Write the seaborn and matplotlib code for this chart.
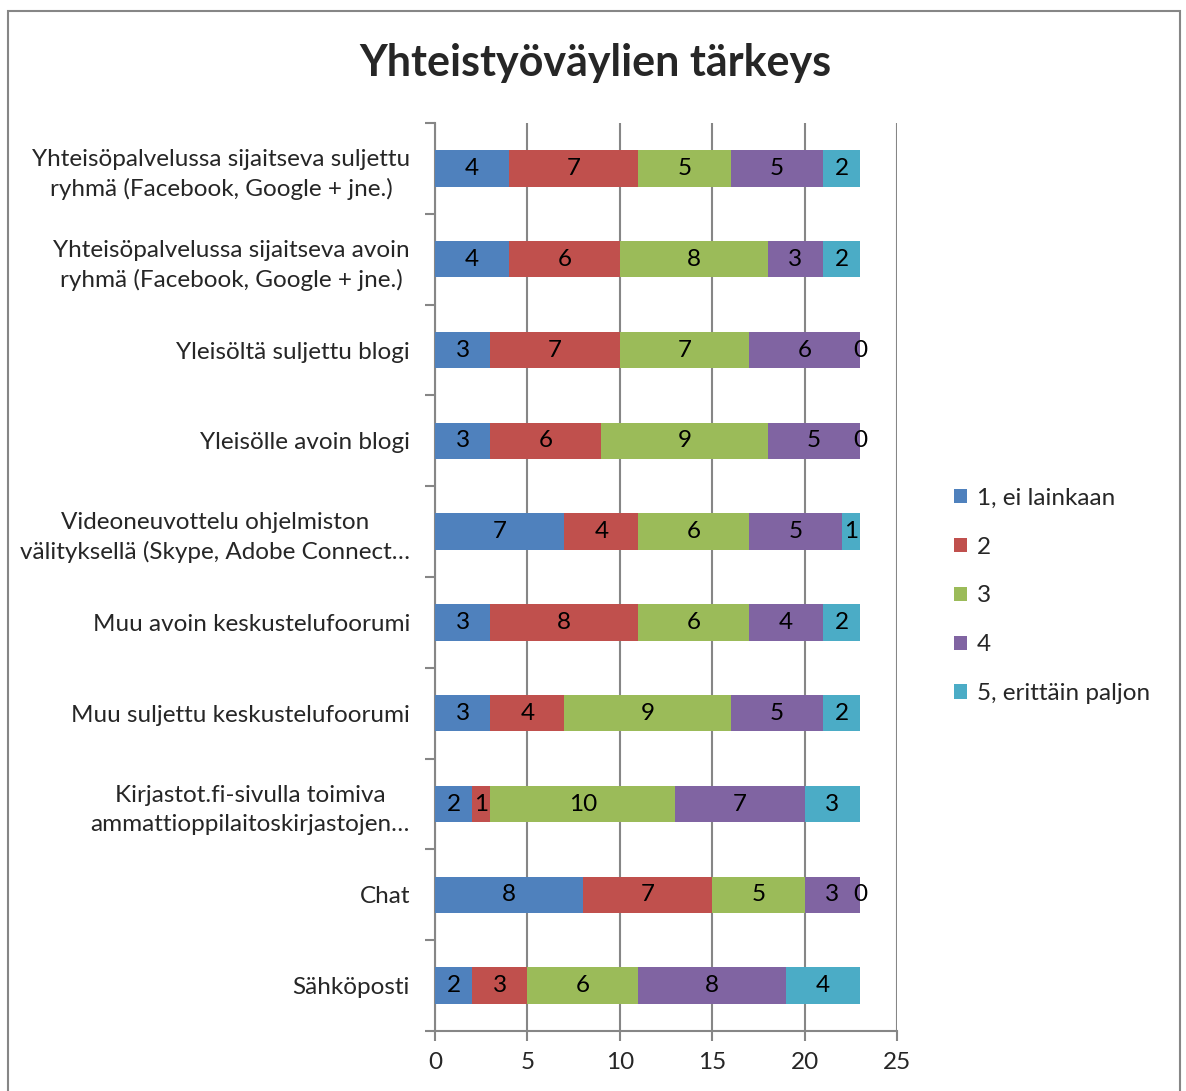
import numpy as np
import pandas as pd
import seaborn as sns
import matplotlib.pyplot as plt
import matplotlib.ticker as ticker
from matplotlib.patches import Patch, Rectangle

# channels, top to bottom
kanavat = [
    'Yhteisöpalvelussa sijaitseva suljettu\nryhmä (Facebook, Google + jne.)',
    'Yhteisöpalvelussa sijaitseva avoin\nryhmä (Facebook, Google + jne.)',
    'Yleisöltä suljettu blogi',
    'Yleisölle avoin blogi',
    'Videoneuvottelu ohjelmiston\nvälityksellä (Skype, Adobe Connect…',
    'Muu avoin keskustelufoorumi',
    'Muu suljettu keskustelufoorumi',
    'Kirjastot.fi-sivulla toimiva\nammattioppilaitoskirjastojen…',
    'Chat',
    'Sähköposti',
]
tasot = ['1, ei lainkaan', '2', '3', '4', '5, erittäin paljon']
taso1 = [4, 4, 3, 3, 7, 3, 3, 2, 8, 2]
taso2 = [7, 6, 7, 6, 4, 8, 4, 1, 7, 3]
taso3 = [5, 8, 7, 9, 6, 6, 9, 10, 5, 6]
taso4 = [5, 3, 6, 5, 5, 4, 5, 7, 3, 8]
taso5 = [2, 2, 0, 0, 1, 2, 2, 3, 0, 4]
x_ticks = [0, 5, 10, 15, 20, 25]

varit = ['#4F81BD', '#C0504D', '#9BBB59', '#8064A2', '#4BACC6']
harmaa = '#868686'

df = pd.DataFrame({'kanava': kanavat})
for t, v in zip(tasot, [taso1, taso2, taso3, taso4, taso5]):
    df[t] = v
# cumulative sums for stacking
cum = df[tasot].cumsum(axis=1)
for t in tasot:
    df['cum_' + t] = cum[t]

sns.set_style('white')
plt.rcParams['font.family'] = ['Lato', 'DejaVu Sans']
fs = 17.5

fig = plt.figure(figsize=(11.86, 10.91), dpi=100)
ax = fig.add_axes([435 / 1186, 1 - 1031 / 1091, (897 - 435) / 1186, (1031 - 123) / 1091])

# draw longest cumulative first so shorter ones sit on top
for t, c in reversed(list(zip(tasot, varit))):
    sns.barplot(data=df, x='cum_' + t, y='kanava', color=c, saturation=1,
                orient='h', width=0.4, edgecolor='none', ax=ax, zorder=3)

# value labels in bar centres
for i in range(len(kanavat)):
    for t in tasot:
        v = df.loc[i, t]
        x = df.loc[i, 'cum_' + t] - v / 2
        ax.text(x, i, str(v), ha='center', va='center', fontsize=fs, color='black', zorder=4)

ax.set_xlim(0, 25)
ax.set_ylim(len(kanavat) - 0.5, -0.5)
ax.set_xticks(x_ticks)
ax.set_xticklabels([str(x) for x in x_ticks], fontsize=fs)
ax.xaxis.grid(True, color=harmaa, linewidth=1.5, zorder=0)
ax.yaxis.grid(False)
ax.set_xlabel('')
ax.set_ylabel('')

ax.yaxis.set_minor_locator(ticker.FixedLocator(np.arange(-0.5, len(kanavat), 1.0)))
ax.tick_params(axis='y', which='major', length=0, pad=18, labelsize=fs)
ax.tick_params(axis='y', which='minor', left=True, length=7, width=1.5, color=harmaa)
ax.tick_params(axis='x', which='major', bottom=True, length=7, width=1.5, color=harmaa, pad=8)
for lab in ax.get_yticklabels():
    lab.set_multialignment('center')
    lab.set_linespacing(1.45)

for s in ['top', 'right']:
    ax.spines[s].set_visible(False)
for s in ['left', 'bottom']:
    ax.spines[s].set_color(harmaa)
    ax.spines[s].set_linewidth(1.5)

fig.text(0.502, 1 - 63 / 1091, 'Yhteistyöväylien tärkeys', ha='center', va='center',
         fontsize=31, fontweight='bold')

handles = [Patch(facecolor=c, edgecolor='none', label=t) for t, c in zip(tasot, varit)]
fig.legend(handles=handles, loc='center left', bbox_to_anchor=(932 / 1186, 1 - 596 / 1091),
           frameon=False, fontsize=fs, handlelength=0.55, handleheight=0.55,
           handletextpad=0.4, labelspacing=1.15)

# outer chart border
fig.patches.append(Rectangle((8 / 1186, -0.02), (1180 - 8) / 1186, 1.02 - 11 / 1091,
                             transform=fig.transFigure, fill=False, edgecolor=harmaa,
                             linewidth=1.5))

plt.savefig('out.png', dpi=100)
